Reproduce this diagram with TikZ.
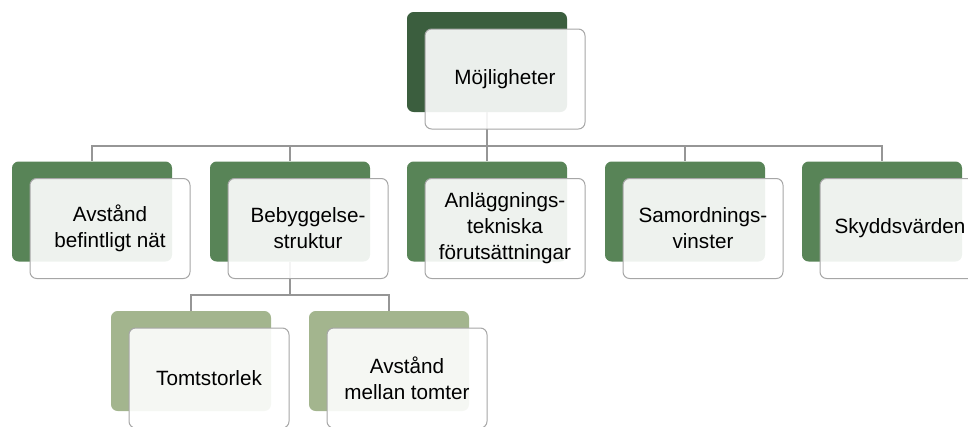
\documentclass[tikz,border=0pt]{standalone}
\usepackage{fontspec}
\setmainfont{Liberation Sans}
\usetikzlibrary{calc,positioning}

\definecolor{gronmork}{RGB}{59,94,62}
\definecolor{gronmellan}{RGB}{88,132,87}
\definecolor{gronljus}{RGB}{163,181,142}
\definecolor{kantgra}{RGB}{166,166,166}
\definecolor{linjegra}{RGB}{150,150,150}

\tikzset{
  bakruta/.style={draw=none,rounded corners=5pt,minimum width=120pt,minimum height=75pt,inner sep=0pt},
  framruta/.style={draw=kantgra,line width=0.75pt,fill=white,fill opacity=0.9,text opacity=1,
    rounded corners=5pt,minimum width=120pt,minimum height=75pt,inner sep=2pt,
    align=center,font=\fontsize{15.5}{19.5}\selectfont},
  forbindelse/.style={draw=linjegra,line width=0.9pt}
}

\begin{document}
\begin{tikzpicture}[x=0.75pt,y=-0.75pt]
\useasboundingbox (0,0) rectangle (968,426);

\coordinate (skena1) at (487,146); %horisontell linje niva 1
\coordinate (skena2) at (290,295); %horisontell linje niva 2

% bakre rutor
\node[bakruta,fill=gronmork] (mb) at (487,62) {};
\node[bakruta,fill=gronmellan] (b1) at (92,211.5) {};
\node[bakruta,fill=gronmellan] (b2) at (290,211.5) {};
\node[bakruta,fill=gronmellan] (b3) at (487,211.5) {};
\node[bakruta,fill=gronmellan] (b4) at (685,211.5) {};
\node[bakruta,fill=gronmellan] (b5) at (882,211.5) {};
\node[bakruta,fill=gronljus] (c1) at (191,361) {};
\node[bakruta,fill=gronljus] (c2) at (389,361) {};

% linjer
\draw[forbindelse] (mb.south) -- (skena1);
\foreach \b in {b1,b2,b3,b4,b5}
  \draw[forbindelse] (skena1) -| (\b.north);
\draw[forbindelse] (b2.south) -- (skena2);
\foreach \c in {c1,c2}
  \draw[forbindelse] (skena2) -| (\c.north);

% framre rutor
\node[framruta] (mf) at ($(mb)+(18,17)$) {Möjligheter};
\node[framruta] (f1) at ($(b1)+(18,17)$) {Avstånd\\befintligt nät};
\node[framruta] (f2) at ($(b2)+(18,17)$) {Bebyggelse-\\struktur};
\node[framruta] (f3) at ($(b3)+(18,17)$) {Anläggnings-\\tekniska\\förutsättningar};
\node[framruta] (f4) at ($(b4)+(18,17)$) {Samordnings-\\vinster};
\node[framruta] (f5) at ($(b5)+(18,17)$) {Skyddsvärden};
\node[framruta] (g1) at ($(c1)+(18,17)$) {Tomtstorlek};
\node[framruta] (g2) at ($(c2)+(18,17)$) {Avstånd\\mellan tomter};
\end{tikzpicture}
\end{document}
